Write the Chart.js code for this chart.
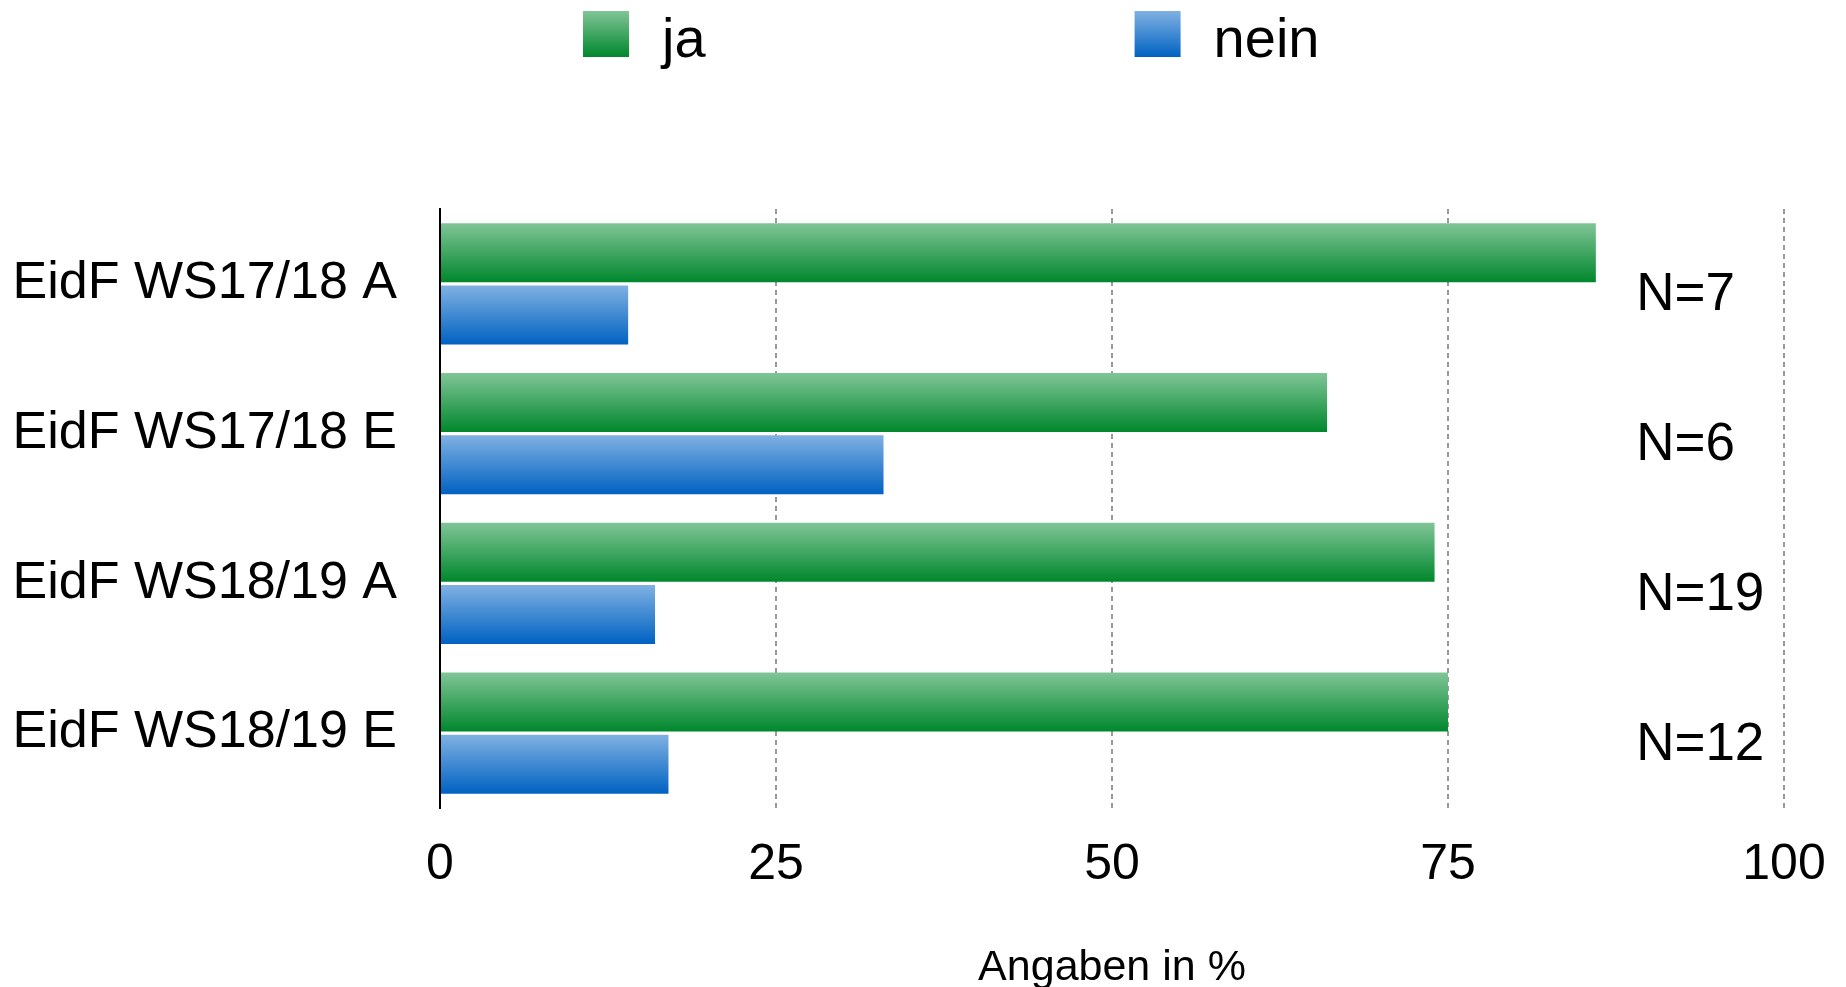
<!DOCTYPE html>
<html>
<head>
<meta charset="utf-8">
<title>Angaben in %</title>
<script src="https://cdn.jsdelivr.net/npm/chart.js@4.4.0/dist/chart.umd.min.js"></script>
<style>
    body { margin: 0; background: #fff; }
    #wrap { width: 1846px; height: 987px; position: relative; }
</style>
</head>
<body>
<div id="wrap"><canvas id="umfrageChart"></canvas></div>
<script>
// answers per course, in percent
const categories = ['EidF WS17/18 A', 'EidF WS17/18 E', 'EidF WS18/19 A', 'EidF WS18/19 E'];
const jaValues = [86, 66, 74, 75];
const neinValues = [14, 33, 16, 17];
const nValues = [7, 6, 19, 12];
const xTicks = [0, 25, 50, 75, 100];

const FONT = "'Liberation Sans', Helvetica, Arial, sans-serif";
const CAT_PCT = 0.83;
const BAR_PCT = 0.95;

// light top -> dark bottom, like the original bars
const gradients = [
    ['#80c597', '#00872c'],
    ['#80b1e2', '#0062c2']
];

function barFill(context) {
    const chart = context.chart;
    const di = context.datasetIndex;
    const yScale = chart.scales.y;
    if (!chart.chartArea || !yScale || context.dataIndex === undefined) {
        return gradients[di][1];
    }
    const band = (yScale.bottom - yScale.top) / categories.length;
    const group = band * CAT_PCT;
    const slot = group / 2;
    const center = yScale.getPixelForValue(context.dataIndex);
    const top = center - group / 2 + di * slot + slot * (1 - BAR_PCT) / 2;
    const bottom = top + slot * BAR_PCT;
    const g = chart.ctx.createLinearGradient(0, top, 0, bottom);
    g.addColorStop(0, gradients[di][0]);
    g.addColorStop(1, gradients[di][1]);
    return g;
}

// legend row at the top: gradient square + label
const legendRow = {
    id: 'legendRow',
    afterDraw(chart, args, opts) {
        const ctx = chart.ctx;
        ctx.save();
        ctx.font = opts.fontSize + 'px ' + FONT;
        ctx.textBaseline = 'alphabetic';
        ctx.textAlign = 'left';
        let x = opts.left;
        chart.data.datasets.forEach((ds, i) => {
            const g = ctx.createLinearGradient(0, opts.top, 0, opts.top + opts.box);
            g.addColorStop(0, gradients[i][0]);
            g.addColorStop(1, gradients[i][1]);
            ctx.fillStyle = g;
            ctx.fillRect(x, opts.top, opts.box, opts.box);
            ctx.fillStyle = '#000';
            const tx = x + opts.box + opts.gap;
            ctx.fillText(ds.label, tx, opts.top + opts.box);
            x = tx + ctx.measureText(ds.label).width + opts.spacing;
        });
        ctx.restore();
    }
};

// sample sizes to the right of the bars
const sampleSizes = {
    id: 'sampleSizes',
    afterDatasetsDraw(chart, args, opts) {
        const ctx = chart.ctx;
        const xs = chart.scales.x;
        const ys = chart.scales.y;
        const band = (ys.bottom - ys.top) / categories.length;
        ctx.save();
        ctx.font = opts.fontSize + 'px ' + FONT;
        ctx.fillStyle = '#000';
        ctx.textAlign = 'left';
        ctx.textBaseline = 'middle';
        nValues.forEach((n, i) => {
            const y = ys.getPixelForValue(i) + band * opts.shift;
            ctx.fillText('N=' + n, xs.getPixelForValue(opts.atValue), y);
        });
        ctx.restore();
    }
};

new Chart(document.getElementById('umfrageChart'), {
    type: 'bar',
    data: {
        labels: categories,
        datasets: [
            { label: 'ja', data: jaValues, backgroundColor: barFill, borderWidth: 0 },
            { label: 'nein', data: neinValues, backgroundColor: barFill, borderWidth: 0 }
        ]
    },
    options: {
        indexAxis: 'y',
        responsive: true,
        maintainAspectRatio: false,
        animation: false,
        datasets: {
            bar: { categoryPercentage: CAT_PCT, barPercentage: BAR_PCT }
        },
        layout: { padding: { top: 209, right: 62, bottom: 0, left: 0 } },
        plugins: {
            legend: { display: false },
            tooltip: { enabled: false },
            legendRow: { left: 583, top: 11, box: 46, gap: 33, spacing: 429, fontSize: 56 },
            sampleSizes: { atValue: 89, shift: 0.08, fontSize: 53 }
        },
        scales: {
            x: {
                min: 0,
                max: 100,
                afterBuildTicks: (scale) => { scale.ticks = xTicks.map(v => ({ value: v })); },
                afterFit: (scale) => {
                    scale.height = 179;
                    // "100" may hang into the right margin
                    scale.paddingLeft = 0;
                    scale.paddingRight = 0;
                },
                grid: {
                    color: (c) => c.tick && c.tick.value === 0 ? 'rgba(0,0,0,0)' : '#9a9a9a',
                    lineWidth: 2,
                    drawTicks: false
                },
                border: { display: false, dash: [5, 4] },
                ticks: {
                    color: '#000',
                    padding: 27,
                    maxRotation: 0,
                    font: { family: FONT, size: 50 }
                },
                title: {
                    display: true,
                    text: 'Angaben in %',
                    color: '#000',
                    padding: { top: 0, bottom: -3 },
                    font: { family: FONT, size: 43, lineHeight: 1 }
                }
            },
            y: {
                afterFit: (scale) => { scale.width = 440; },
                grid: { display: false, drawTicks: false },
                border: { display: true, color: '#000', width: 2 },
                ticks: {
                    color: '#000',
                    padding: 43,
                    font: { family: FONT, size: 52 }
                }
            }
        }
    },
    plugins: [legendRow, sampleSizes]
});
</script>
</body>
</html>
